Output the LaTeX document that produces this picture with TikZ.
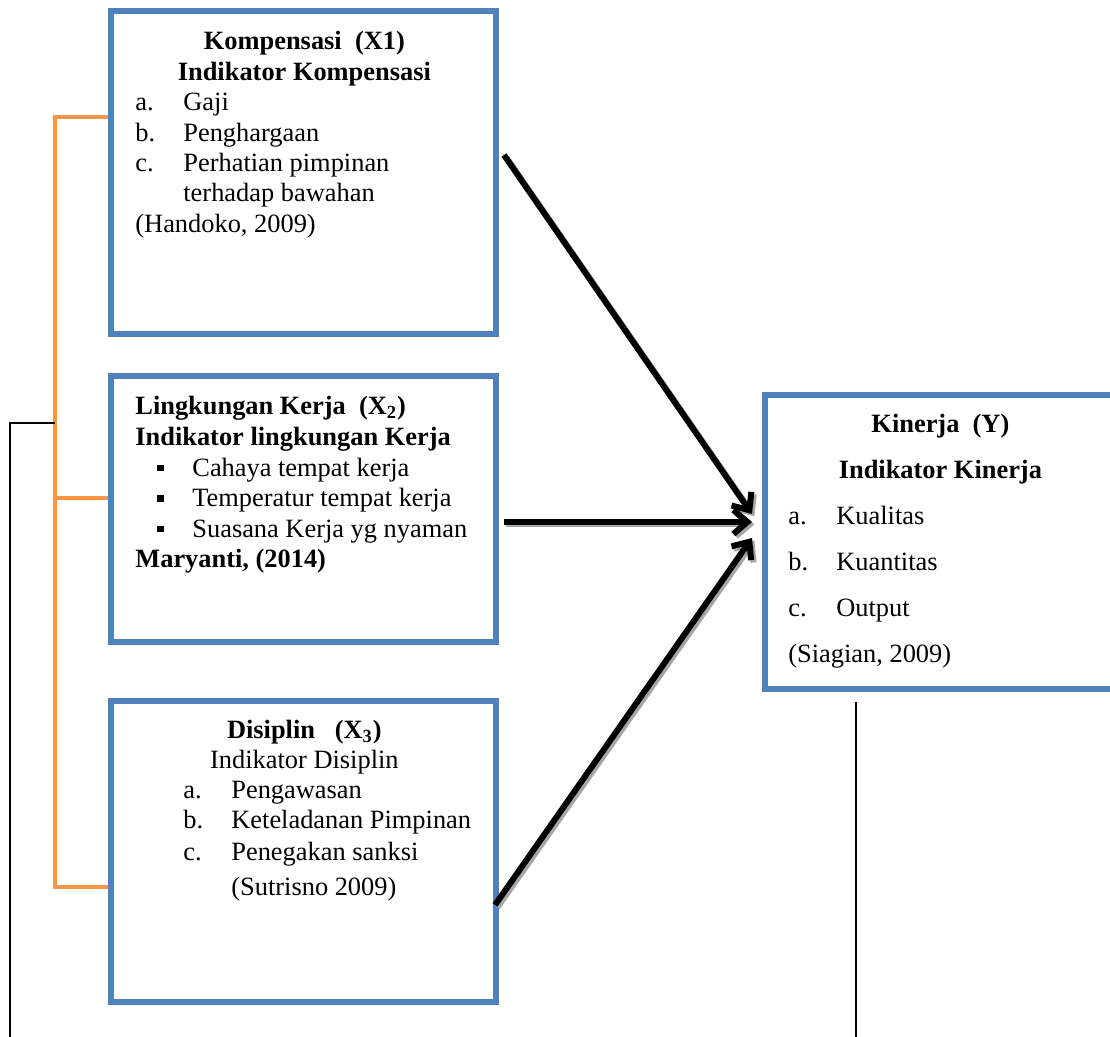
\documentclass[tikz,border=0pt]{standalone}
\usepackage{fontspec}
\setmainfont{Liberation Serif}
\usetikzlibrary{arrows.meta,fit}

\definecolor{biru}{HTML}{4F81BD}
\definecolor{oranye}{HTML}{F79646}

\tikzset{
	kotak/.style={draw=biru, line width=3pt, inner sep=0pt},
	isi/.style={anchor=base west, inner sep=0pt, font=\fontsize{13.2}{15.2}\selectfont},
	panah/.style={line width=3pt, -{Straight Barb[length=7pt,width=12pt]}},
	bayang/.style={panah, draw=black!35, transform canvas={shift={(1.2pt,-1.2pt)}}},
	kurung/.style={draw=oranye, line width=2pt},
	garis/.style={draw=black, line width=1pt}
}

\begin{document}
\begin{tikzpicture}[x=0.5pt, y=-0.5pt]
	\useasboundingbox (0,0) rectangle (1110,1037);

	% kotak
	\node[kotak, fit={(111,11) (496,334)}] (komp) {};
	\node[kotak, fit={(111,376) (496,642)}] (ling) {};
	\node[kotak, fit={(111,701) (496,1002)}] (disi) {};
	\node[kotak, fit={(765,395) (1118,689)}] (kin) {};

	% isi kotak
	\node[isi] (kompisi) at (135,50) 
		{\begin{minipage}[t]{169pt}
			\centering\textbf{Kompensasi\ \ (X1)}\\
			\textbf{Indikator Kompensasi}\par
			\raggedright
			\makebox[24pt][l]{a.}Gaji\\
			\makebox[24pt][l]{b.}Penghargaan\\
			\makebox[24pt][l]{c.}Perhatian pimpinan\\
			\hspace*{24pt}terhadap bawahan\\
			(Handoko, 2009)
		\end{minipage}};
	\node[isi] (lingisi) at (135,415) 
		{\begin{minipage}[t]{175pt}
			\fontsize{13.2}{15.3}\selectfont\raggedright
			\textbf{Lingkungan Kerja\ \ (X\textsubscript{2})}\\
			\textbf{Indikator lingkungan Kerja}\\
			\makebox[28.5pt][l]{\hspace*{11pt}\rule[2.5pt]{3.3pt}{3.3pt}}Cahaya tempat kerja\\
			\makebox[28.5pt][l]{\hspace*{11pt}\rule[2.5pt]{3.3pt}{3.3pt}}Temperatur tempat kerja\\
			\makebox[28.5pt][l]{\hspace*{11pt}\rule[2.5pt]{3.3pt}{3.3pt}}Suasana Kerja yg nyaman\\
			\textbf{Maryanti, (2014)}
		\end{minipage}};
	\node[isi] (disiisi) at (135,739) 
		{\begin{minipage}[t]{169pt}
			\fontsize{13.2}{15}\selectfont
			\centering\textbf{Disiplin\ \ \ (X\textsubscript{3})}\\
			Indikator Disiplin\par
			\raggedright
			\hspace*{24pt}\makebox[24pt][l]{a.}Pengawasan\\
			\hspace*{24pt}\makebox[24pt][l]{b.}Keteladanan Pimpinan\\[1pt]
			\hspace*{24pt}\makebox[24pt][l]{c.}Penegakan sanksi\\[2.5pt]
			\hspace*{48pt}(Sutrisno 2009)
		\end{minipage}};
	\node[isi] (kinisi) at (788,433) 
		{\begin{minipage}[t]{152pt}
			\fontsize{13.2}{23}\selectfont
			\centering\textbf{Kinerja\ \ (Y)}\\
			\textbf{Indikator Kinerja}\par
			\raggedright
			\makebox[24pt][l]{a.}Kualitas\\
			\makebox[24pt][l]{b.}Kuantitas\\
			\makebox[24pt][l]{c.}Output\\
			(Siagian, 2009)
		\end{minipage}};

	% kurung oranye
	\coordinate (ka) at (55,117);
	\coordinate (kb) at (55,887);
	\draw[kurung] (komp.west |- ka) -- (ka) -- (kb) -- (disi.west |- kb);
	\draw[kurung] (ka |- 0,498) -- (ling.west |- 0,498);

	% garis hitam
	\coordinate (ga) at (55,423);
	\coordinate (gb) at (10,1037);
	\draw[garis] (ga) -| (gb);
	\coordinate (gc) at (856,702);
	\coordinate (gd) at (856,1037);
	\draw[garis] (gc) -- (gd);

	% panah
	\coordinate (p1) at (504,155);
	\coordinate (p2) at (504,522);
	\coordinate (p3) at (495,905);
	\coordinate (t1) at (752,514);
	\coordinate (t2) at (752,522);
	\coordinate (t3) at (752,538);
	\foreach \a/\b in {p1/t1, p2/t2, p3/t3}
		\draw[bayang] (\a) -- (\b);
	\foreach \a/\b in {p1/t1, p2/t2, p3/t3}
		\draw[panah] (\a) -- (\b);
\end{tikzpicture}
\end{document}
